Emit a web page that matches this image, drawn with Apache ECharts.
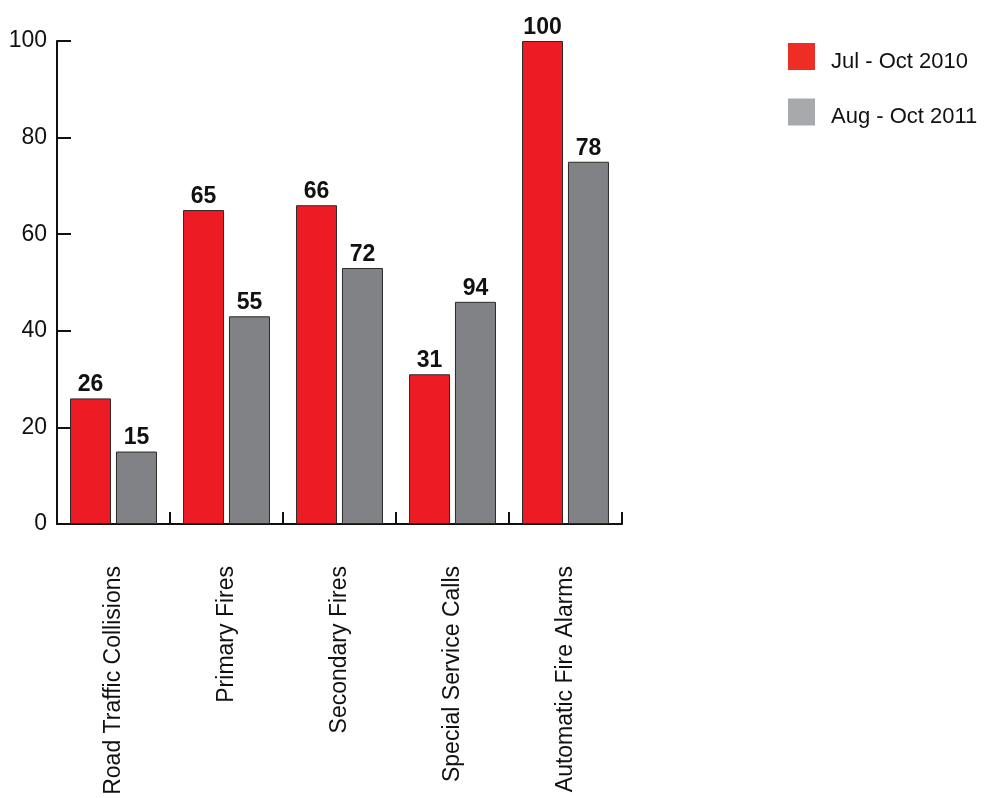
<!DOCTYPE html>
<html>
<head>
<meta charset="utf-8">
<script src="https://cdn.jsdelivr.net/npm/echarts@6/dist/echarts.min.js"></script>
<style>html,body{margin:0;padding:0;background:#fff}#c{width:985px;height:798px}</style>
</head>
<body>
<div id="c"></div>
<script>
const categories = ["Road Traffic Collisions", "Primary Fires", "Secondary Fires", "Special Service Calls", "Automatic Fire Alarms"];
const seriesNames = ["Jul - Oct 2010", "Aug - Oct 2011"];
// bar heights as drawn
const heights2010 = [26, 65, 66, 31, 100];
const heights2011 = [15, 43, 53, 46, 75];
// value labels printed above bars
const labels2010 = [26, 65, 66, 31, 100];
const labels2011 = [15, 55, 72, 94, 78];
const yTicks = [0, 20, 40, 60, 80, 100];

const font = '"Liberation Sans", Arial, Helvetica, sans-serif';
const chart = echarts.init(document.getElementById('c'));
function mkSeries(name, heights, labels, color) {
  return {
    name: name, type: 'bar', barWidth: 41, barGap: '12%',
    itemStyle: { color: color, borderColor: '#2a2a2a', borderWidth: 1 },
    label: {
      show: true, position: 'top', distance: 2,
      fontFamily: font, fontWeight: 'bold', fontSize: 23, color: '#111',
      formatter: p => String(labels[p.dataIndex])
    },
    data: heights
  };
}
chart.setOption({
  animation: false,
  grid: { left: 57, top: 41, right: 363, bottom: 274, containLabel: false },
  legend: {
    orient: 'vertical', left: 783, top: 38,
    itemWidth: 27, itemHeight: 27, itemGap: 26,
    formatter: '{t|{name}}',
    textStyle: {
      fontFamily: font, fontSize: 22, color: '#111', padding: [0, 0, 0, 11],
      rich: { t: { fontFamily: font, fontSize: 22, color: '#111', padding: [10, 0, 0, 0] } }
    },
    data: [
      { name: seriesNames[0], icon: 'rect', itemStyle: { color: '#EE2E24', borderWidth: 0 } },
      { name: seriesNames[1], icon: 'rect', itemStyle: { color: '#A7A9AC', borderWidth: 0 } }
    ]
  },
  xAxis: {
    type: 'category', data: categories,
    axisLine: { lineStyle: { color: '#111', width: 2 } },
    axisTick: { show: true, inside: true, length: 12, lineStyle: { color: '#111', width: 2 } },
    axisLabel: { rotate: 90, margin: 42, fontFamily: font, fontSize: 23, color: '#111' }
  },
  yAxis: {
    type: 'value', min: yTicks[0], max: yTicks[yTicks.length - 1], interval: yTicks[1] - yTicks[0],
    splitLine: { show: false },
    axisLine: { show: true, lineStyle: { color: '#111', width: 2 } },
    axisTick: { show: true, inside: true, length: 14, lineStyle: { color: '#111', width: 2 } },
    axisLabel: { margin: 10, fontFamily: font, fontSize: 23, color: '#111' }
  },
  series: [
    mkSeries(seriesNames[0], heights2010, labels2010, '#ED1C24'),
    mkSeries(seriesNames[1], heights2011, labels2011, '#808285')
  ]
});
</script>
</body>
</html>
